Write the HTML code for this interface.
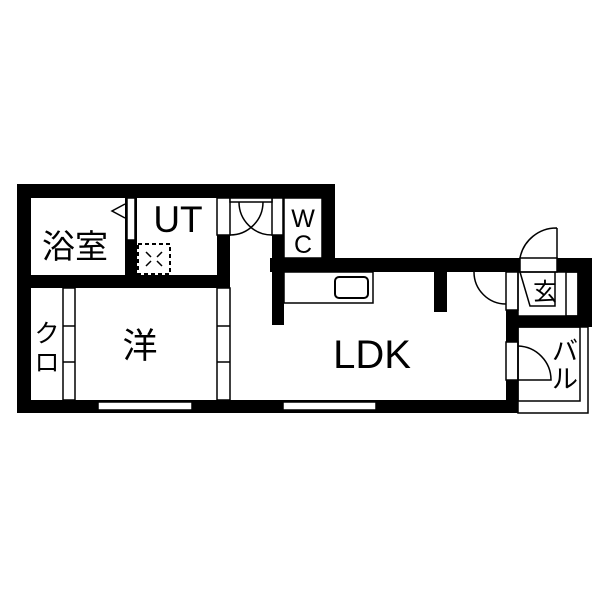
<!DOCTYPE html>
<html><head><meta charset="utf-8"><style>
body{margin:0;background:#fff}
svg{display:block}
text{font-family:"Liberation Sans","Noto Sans CJK JP",sans-serif;fill:#000}
</style></head><body>
<svg width="600" height="600" viewBox="0 0 600 600" xmlns="http://www.w3.org/2000/svg">
<rect width="600" height="600" fill="#fff"/>
<g fill="#000">
<rect x="17" y="184" width="318" height="14"/>
<rect x="17" y="184" width="14" height="229"/>
<rect x="17" y="400" width="501" height="13"/>
<rect x="322" y="184" width="13" height="88"/>
<rect x="270" y="258" width="322" height="14"/>
<rect x="578" y="258" width="14" height="62"/>
<rect x="31" y="275" width="199" height="13"/>
<rect x="125" y="198" width="12" height="90"/>
<rect x="217" y="198" width="13" height="90"/>
<rect x="272" y="198" width="12" height="127"/>
<rect x="284" y="258" width="40" height="14"/>
<rect x="434" y="272" width="13" height="40"/>
<rect x="506" y="258" width="12" height="155"/>
<rect x="506" y="316" width="86" height="11"/>
</g>
<g fill="#fff" stroke="#000" stroke-width="1.5">
<rect x="127" y="198" width="8" height="42"/>
<rect x="217" y="198" width="13" height="37"/>
<rect x="272" y="198" width="11" height="37"/>
<rect x="230" y="198" width="42" height="4"/>
<rect x="63" y="288" width="12" height="112"/>
<line x1="63" y1="326" x2="75" y2="326"/>
<line x1="63" y1="362" x2="75" y2="362"/>
<rect x="217" y="288" width="13" height="112"/>
<line x1="217" y1="326" x2="230" y2="326"/>
<line x1="217" y1="362" x2="230" y2="362"/>
<rect x="98" y="402" width="94" height="8"/>
<rect x="283" y="402" width="93" height="8"/>
<rect x="506" y="272" width="12" height="38"/>
<rect x="506" y="342" width="12" height="38"/>
<rect x="520" y="258" width="37" height="14"/>
<rect x="284" y="272" width="89" height="31"/>
<rect x="335" y="277" width="33" height="21" rx="4" stroke-width="2"/>
<rect x="284" y="198" width="38" height="60"/>
<rect x="518" y="272" width="60" height="44" fill="none"/>
<path d="M520 272 L530 306 L555 306 L555 272" fill="none"/>
<rect x="566" y="272" width="12" height="44" fill="none"/>
<rect x="518" y="327" width="70" height="86" fill="none"/>
<rect x="518" y="327" width="62" height="74" fill="none"/>
</g>
<g fill="none" stroke="#000" stroke-width="1.5">
<path d="M263 202 A33 33 0 0 1 230 235"/>
<path d="M239 202 A33 33 0 0 0 272 235"/>
<path d="M557 228 A37 37 0 0 0 520 258 M557 228 L557 258"/>
<path d="M474 272 A32 32 0 0 0 506 304"/>
<path d="M518 346 A34 34 0 0 1 551 380 L518 380"/>
<path d="M125 204 L112 211 L125 218"/>
<rect x="138" y="244" width="32" height="30" stroke-dasharray="4,3" stroke-width="2"/>
<path d="M146 252 L151 257 M162 252 L157 257 M146 266 L151 261 M162 266 L157 261"/>
</g>
<text x="75" y="258" font-size="33" text-anchor="middle">浴室</text>
<text x="178" y="232" font-size="37" text-anchor="middle">UT</text>
<text x="303" y="227" font-size="25" text-anchor="middle">W</text>
<text x="303" y="253" font-size="25" text-anchor="middle">C</text>
<text x="140" y="358" font-size="35" text-anchor="middle">洋</text>
<text x="47" y="342" font-size="25" text-anchor="middle">ク</text>
<text x="47" y="371" font-size="25" text-anchor="middle">ロ</text>
<text x="372" y="368" font-size="40" text-anchor="middle">LDK</text>
<text x="545" y="300" font-size="24" text-anchor="middle">玄</text>
<text x="565" y="360" font-size="26" text-anchor="middle">バ</text>
<text x="565" y="388" font-size="26" text-anchor="middle">ル</text>
</svg>
</body></html>
